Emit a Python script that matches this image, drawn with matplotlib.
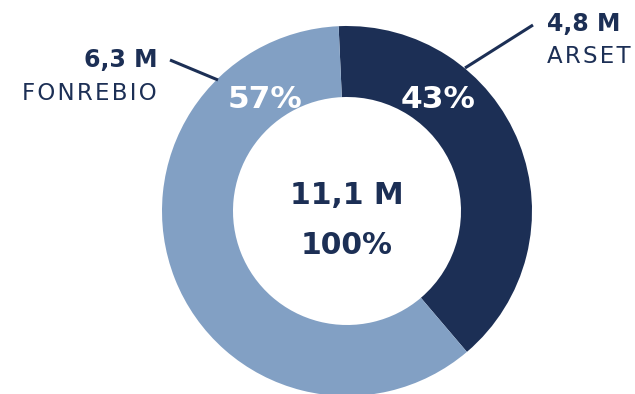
import matplotlib
matplotlib.use("Agg")
import matplotlib.pyplot as plt

# Data
names = ["ARSET", "FONREBIO"]
amounts = ["4,8 M", "6,3 M"]
pct_labels = ["43%", "57%"]
slice_shares = [39.5, 60.5]  # angular shares as drawn in the picture
total_label = "11,1 M"
total_pct = "100%"

DARK = "#1c2f55"
LIGHT = "#82a0c4"
TXT = "#1c2f55"

W, H = 635, 394
fig = plt.figure(figsize=(W / 100, H / 100), dpi=100)
ax = fig.add_axes([0, 0, 1, 1])

def Y(y):
    return H - y

cx, cy, R, r = 347, 211, 185, 114
ax.pie(slice_shares, colors=[DARK, LIGHT], startangle=92.6, counterclock=False,
       center=(cx, Y(cy)), radius=R, frame=True,
       wedgeprops=dict(width=R - r, linewidth=0))
ax.set_xlim(0, W)
ax.set_ylim(0, H)
ax.set_aspect("equal")
ax.axis("off")

fam = "DejaVu Sans"
HS = "\u200a"

def spaced(s):
    return HS.join(s)

# Percent labels on slices
ax.text(438.5, Y(108), pct_labels[0], color="white", fontsize=22.5, fontweight="bold",
        ha="center", va="baseline", family=fam)
ax.text(265.5, Y(108), pct_labels[1], color="white", fontsize=22.5, fontweight="bold",
        ha="center", va="baseline", family=fam)

# Center
ax.text(347, Y(204), total_label, color=TXT, fontsize=21.5, fontweight="bold",
        ha="center", va="baseline", family=fam)
ax.text(347, Y(254), total_pct, color=TXT, fontsize=21.5, fontweight="bold",
        ha="center", va="baseline", family=fam)

# Outside labels
ax.text(157, Y(67), amounts[1], color=TXT, fontsize=17, fontweight="bold",
        ha="right", va="baseline", family=fam)
ax.text(157, Y(100), spaced(names[1]), color=TXT, fontsize=16.5, fontweight="normal",
        ha="right", va="baseline", family=fam)
ax.text(547, Y(31), amounts[0], color=TXT, fontsize=17, fontweight="bold",
        ha="left", va="baseline", family=fam)
ax.text(547, Y(63), spaced(names[0]), color=TXT, fontsize=16.5, fontweight="normal",
        ha="left", va="baseline", family=fam)

# Leader lines
ax.plot([170, 218], [Y(60), Y(80)], color=TXT, lw=2.2, solid_capstyle="butt")
ax.plot([533, 465], [Y(25), Y(68)], color=TXT, lw=2.2, solid_capstyle="butt")

fig.savefig("out.png", dpi=100, facecolor="white")
